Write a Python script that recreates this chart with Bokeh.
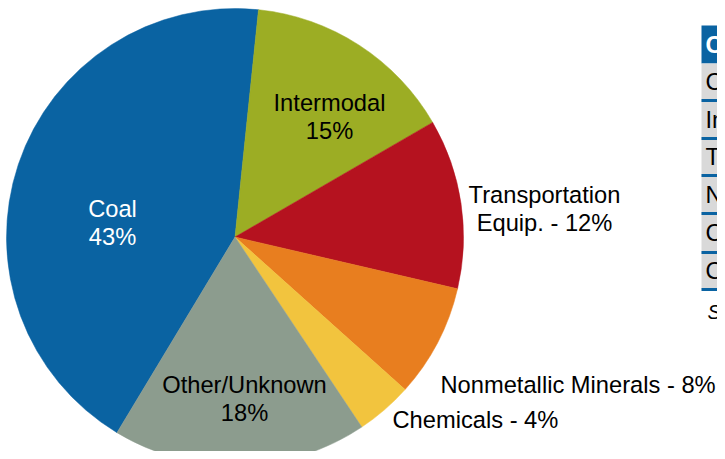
import math
from bokeh.plotting import figure
from bokeh.models import Range1d, ColumnDataSource
from bokeh.core.properties import value
from bokeh.embed import file_html
from bokeh.resources import INLINE

# ---- data ----
categories = ["Coal", "Intermodal", "Transportation Equip.", "Nonmetallic Minerals", "Chemicals", "Other/Unknown"]
shares = [43, 15, 12, 8, 4, 18]
colors = ["#0A63A2", "#9CAD24", "#B5121F", "#E87E1F", "#F2C43E", "#8C9C8E"]
label_lines = [["Coal", "43%"], ["Intermodal", "15%"], ["Transportation", "Equip. - 12%"],
               ["Nonmetallic Minerals - 8%"], ["Chemicals - 4%"], ["Other/Unknown", "18%"]]
label_colors = ["white", "black", "black", "black", "black", "black"]
table_header = "Commodity"
table_rows = ["Coal", "Intermodal", "Transportation Equip.", "Nonmetallic Minerals", "Chemicals", "Other/Unknown"]
source_note = "Source: Surface Transportation Board"

# ---- layout (screen pixel coords, converted to y-up) ----
W, H = 717, 451
def Y(py):
    return H - py

cx, cy, R = 234.5, Y(236.5), 228.5
start_cw = -148.9  # clockwise degrees from 12 o'clock where first slice starts

total = sum(shares)
starts, ends = [], []
acc = start_cw
for s in shares:
    a0 = acc
    a1 = acc + 360.0 * s / total
    starts.append(math.radians(90 - a1))
    ends.append(math.radians(90 - a0))
    acc = a1

p = figure(width=W, height=H, output_backend="svg", toolbar_location=None,
           x_range=Range1d(0, W), y_range=Range1d(0, H), min_border=0)
p.axis.visible = False
p.grid.visible = False
p.outline_line_color = None
p.background_fill_color = "white"

src = ColumnDataSource(dict(start=starts, end=ends, color=colors, cat=categories))
p.wedge(x=cx, y=cy, radius=R, start_angle="start", end_angle="end",
        fill_color="color", line_color="color", line_width=0.5, source=src)

label_pos = [(112, 222), (329, 116), (544, 208), (440, 384), (392, 419), (244, 398)]
label_align = ["center", "center", "center", "left", "left", "center"]
line_gap = 28
fs = "23.7px"
for lines, (lx, ly), al, col in zip(label_lines, label_pos, label_align, label_colors):
    n = len(lines)
    for i, t in enumerate(lines):
        yy = ly + (i - (n - 1) / 2) * line_gap
        p.text(x=[lx], y=[Y(yy)], text=[t], text_align=al, text_baseline="middle",
               text_font=value("Liberation Sans"), text_font_size=fs, text_color=col)

# ---- table (cut off at right edge, as in the reference) ----
tx0, tx1 = 701, 1000
row_edges = [63, 100, 138, 175, 213, 252, 289]
p.quad(left=[tx0], right=[tx1], top=[Y(25)], bottom=[Y(63)], fill_color="#0A63A2", line_color=None)
p.text(x=[705], y=[Y(44)], text=[table_header], text_align="left", text_baseline="middle",
       text_font=value("Liberation Sans"), text_font_size=fs, text_font_style="bold", text_color="white")
tops = [Y(v) for v in row_edges[:-1]]
bots = [Y(v) for v in row_edges[1:]]
p.quad(left=tx0, right=tx1, top=tops, bottom=bots, fill_color="#D9D9D9", line_color=None)
p.quad(left=tx0, right=tx1, top=[b + 1.5 for b in bots], bottom=[b - 1.5 for b in bots],
       fill_color="#0A63A2", line_color=None)
mids = [(a + b) / 2 for a, b in zip(tops, bots)]
p.text(x=[705] * len(table_rows), y=mids, text=table_rows, text_align="left", text_baseline="middle",
       text_font=value("Liberation Sans"), text_font_size=fs, text_color="black")
p.text(x=[707], y=[Y(311)], text=[source_note], text_align="left", text_baseline="middle",
       text_font=value("Liberation Sans"), text_font_size="20px", text_font_style="italic", text_color="black")

open("out.html", "w").write(file_html(p, INLINE))
